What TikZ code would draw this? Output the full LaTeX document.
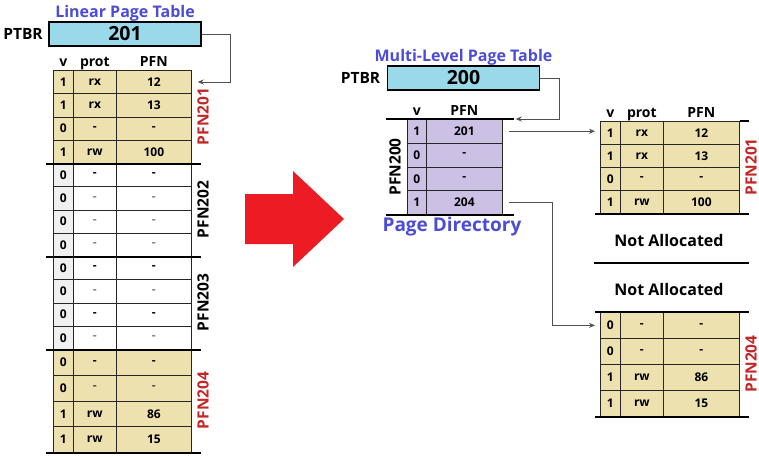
\documentclass[tikz,border=0pt]{standalone}
\usepackage{fontspec}
\setmainfont{Open Sans}
\usetikzlibrary{positioning, calc, arrows.meta}
\definecolor{tanfill}{RGB}{238,225,176}
\definecolor{dirfill}{RGB}{204,193,229}
\definecolor{regfill}{RGB}{153,217,234}
\definecolor{vgray}{RGB}{240,240,240}
\definecolor{pfnred}{RGB}{196,38,38}
\definecolor{titleblue}{RGB}{76,76,214}
\definecolor{bigred}{RGB}{237,28,36}
\definecolor{wire}{RGB}{80,80,80}
\tikzset{%
  cell/.style = {draw=black!85, line width=0.7pt, inner sep=0pt, anchor=north west,
                 font=\fontsize{12}{13}\selectfont\bfseries},
  reg/.style = {draw, line width=1.6pt, fill=regfill, minimum width=152pt,
                minimum height=24pt, inner sep=0pt, font=\fontsize{19.5}{20}\selectfont\bfseries},
  regLabel/.style = {font=\fontsize{15.5}{17}\selectfont\bfseries},
  colHead/.style = {font=\fontsize{14}{15}\selectfont\bfseries, inner sep=2pt,
                    text height=10pt, text depth=2.5pt},
  title/.style = {font=\fontsize{16}{18}\selectfont\bfseries, text=titleblue},
  pfnLabel/.style = {rotate=90, font=\fontsize{15.5}{17}\selectfont\bfseries},
  sep/.style = {line width=1.8pt},
  conn/.style = {draw=wire, line width=0.8pt, -{Stealth[length=6pt,width=5pt]}},
  note/.style = {font=\fontsize{16}{18}\selectfont\bfseries}
  }

\begin{document}
\begin{tikzpicture}[x=1pt, y=-1pt]
    \useasboundingbox (0,0) rectangle (759,455);

    % linear page table
    \node (ptbrL) [reg] at (125,34) {201};
    \node (ptbrLlab) [regLabel, left = 2pt of ptbrL] {PTBR};
    \node (linTitle) [title, above = -4pt of ptbrL] {Linear Page Table};

    \foreach \v/\p/\f/\bg/\vbg/\dc [count=\i] in {
        1/rx/12/tanfill/tanfill/black, 1/rx/13/tanfill/tanfill/black,
        0/-/-/tanfill/tanfill/black, 1/rw/100/tanfill/tanfill/black,
        0/-/-/white/vgray/black, 0/-/-/white/vgray/black!50,
        0/-/-/white/vgray/black!50, 0/-/-/white/vgray/black!50,
        0/-/-/white/vgray/black, 0/-/-/white/vgray/black!50,
        0/-/-/white/vgray/black, 0/-/-/white/vgray/black!50,
        0/-/-/tanfill/tanfill/black, 0/-/-/tanfill/tanfill/black!70,
        1/rw/86/tanfill/tanfill/black, 1/rw/15/tanfill/tanfill/black}
    {
      \pgfmathsetmacro\rowtop{\i<13 ? 70+23.25*(\i-1) : 349+25.75*(\i-13)}
      \pgfmathsetmacro\rowh{\i<13 ? 23.25 : 25.75}
      \node (lin-\i-1) [cell, fill=\vbg, minimum width=20pt, minimum height=\rowh pt] at (53,\rowtop) {\v};
      \node (lin-\i-2) [cell, fill=\bg, text=\dc, minimum width=43pt, minimum height=\rowh pt] at (73,\rowtop) {\p};
      \node (lin-\i-3) [cell, fill=\bg, text=\dc, minimum width=75pt, minimum height=\rowh pt] at (116,\rowtop) {\f};
    }

    \node (linV)    [colHead, above = -1pt of lin-1-1] {v};
    \node (linProt) [colHead, above = -1pt of lin-1-2] {prot};
    \node (linPfn)  [colHead, above = -1pt of lin-1-3] {PFN};

    \foreach \r in {4,8,12,16}
      \draw[sep] ([xshift=-7pt]lin-\r-1.south west) -- ([xshift=9pt]lin-\r-3.south east);

    \node (lin201) [pfnLabel, text=pfnred] at (203,116.5) {PFN201};
    \node (lin202) [pfnLabel] at (203,209.5) {PFN202};
    \node (lin203) [pfnLabel] at (203,302.5) {PFN203};
    \node (lin204) [pfnLabel, text=pfnred] at (203,400.5) {PFN204};

    \draw[conn] (ptbrL.east) -- ++(29,0) |- ([xshift=6pt]lin-1-3.east);

    % big arrow
    \fill[bigred] (245,194) -- (293,194) -- (293,171) -- (344,219) -- (293,267)
                  -- (293,244) -- (245,244) -- cycle;

    % multi-level page table
    \node (ptbrM) [reg] at (463.5,78) {200};
    \node (ptbrMlab) [regLabel, left = 3pt of ptbrM] {PTBR};
    \node (mlTitle) [title, above = -4pt of ptbrM] {Multi-Level Page Table};

    \foreach \v/\f [count=\i] in {1/201, 0/-, 0/-, 1/204}
    {
      \pgfmathsetmacro\rowtop{119+23.75*(\i-1)}
      \node (dir-\i-1) [cell, fill=dirfill, minimum width=19pt, minimum height=23.75pt] at (407,\rowtop) {\v};
      \node (dir-\i-2) [cell, fill=dirfill, minimum width=76pt, minimum height=23.75pt] at (426,\rowtop) {\f};
    }
    \node (dirV)   [colHead, above = -1pt of dir-1-1] {v};
    \node (dirPfn) [colHead, above = -1pt of dir-1-2] {PFN};
    \coordinate (dirTopR) at ([xshift=11pt]dir-1-2.north east);
    \draw[sep] ([xshift=-21pt]dir-1-1.north west) -- (dirTopR);
    \draw[sep] ([xshift=-21pt]dir-4-1.south west) -- ([xshift=11pt]dir-4-2.south east);
    \node (dir200) [pfnLabel] at (395,167) {PFN200};
    \node (dirTitle) [title, font=\fontsize{19}{21}\selectfont\bfseries] at (452,227) {Page Directory};

    % second level tables
    \foreach \v/\p/\f [count=\i] in {1/rx/12, 1/rx/13, 0/-/-, 1/rw/100}
    {
      \pgfmathsetmacro\rowtop{121+23*(\i-1)}
      \node (pt1-\i-1) [cell, fill=tanfill, minimum width=20pt, minimum height=23pt] at (600,\rowtop) {\v};
      \node (pt1-\i-2) [cell, fill=tanfill, minimum width=43pt, minimum height=23pt] at (620,\rowtop) {\p};
      \node (pt1-\i-3) [cell, fill=tanfill, minimum width=76pt, minimum height=23pt] at (663,\rowtop) {\f};
    }
    \node (pt1V)    [colHead, above = -1pt of pt1-1-1] {v};
    \node (pt1Prot) [colHead, above = -1pt of pt1-1-2] {prot};
    \node (pt1Pfn)  [colHead, above = -1pt of pt1-1-3] {PFN};
    \draw[sep] (pt1-1-3.north east) -- ++(9,0);
    \draw[sep] ([xshift=-5pt]pt1-4-1.south west) -- ([xshift=9pt]pt1-4-3.south east);
    \node (pt1201) [pfnLabel, text=pfnred] at (751,167) {PFN201};

    \node (na1) [note] at (669,240) {Not Allocated};
    \draw[sep] ([xshift=-6pt,yshift=-49pt]pt1-4-1.south west) -- ([xshift=9pt,yshift=-49pt]pt1-4-3.south east);
    \node (na2) [note] at (669,289) {Not Allocated};

    \foreach \v/\p/\f [count=\i] in {0/-/-, 0/-/-, 1/rw/86, 1/rw/15}
    {
      \pgfmathsetmacro\rowtop{312+26*(\i-1)}
      \node (pt4-\i-1) [cell, fill=tanfill, minimum width=20pt, minimum height=26pt] at (600,\rowtop) {\v};
      \node (pt4-\i-2) [cell, fill=tanfill, minimum width=43pt, minimum height=26pt] at (620,\rowtop) {\p};
      \node (pt4-\i-3) [cell, fill=tanfill, minimum width=76pt, minimum height=26pt] at (663,\rowtop) {\f};
    }
    \draw[sep] ([xshift=-5pt]pt4-1-1.north west) -- ([xshift=9pt]pt4-1-3.north east);
    \draw[sep] ([xshift=-5pt]pt4-4-1.south west) -- ([xshift=9pt]pt4-4-3.south east);
    \node (pt4204) [pfnLabel, text=pfnred] at (751,364) {PFN204};

    % pointers
    \draw[conn] (ptbrM.east) -- ++(19,0) |- ([xshift=2pt]dirTopR);
    \draw[conn] ([xshift=6pt]dir-1-2.east) -- ([xshift=-5pt]dir-1-2.east -| pt1-1-1.west);
    \draw[conn] ([xshift=6pt]dir-4-2.east) -- ++(44,0) |- ([xshift=-5pt]pt4-1-1.west);
\end{tikzpicture}
\end{document}
